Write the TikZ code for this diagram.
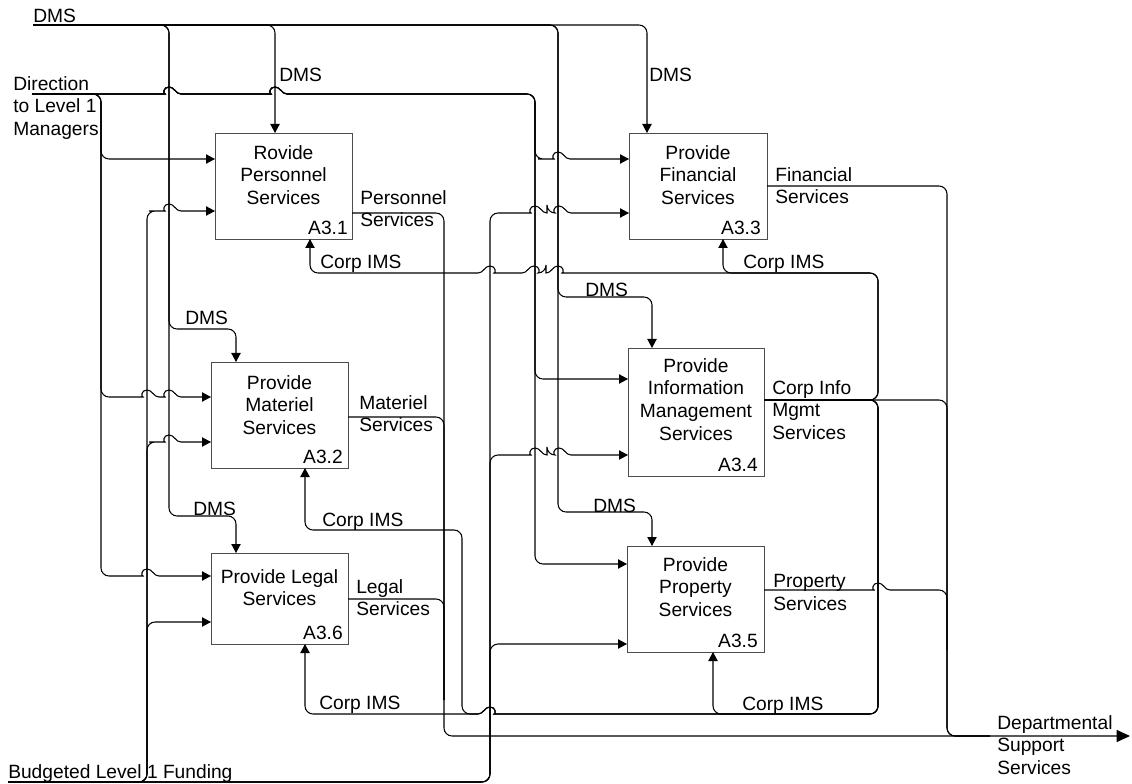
\documentclass[tikz,border=0pt]{standalone}
\usepackage{fontspec}
\setmainfont{Liberation Sans}
\usetikzlibrary{arrows.meta,calc}
\begin{document}
\begin{tikzpicture}[x=0.75pt,y=-0.75pt,
  conn/.style={line width=0.8pt, rounded corners=6pt},
  arr/.style={conn, -{Triangle[length=6.75pt,width=7pt]}},
  bigarr/.style={conn, -{Triangle[length=10pt,width=9pt]}},
  box/.style={draw=black!70, line width=0.7pt, anchor=north west, inner sep=0pt, outer sep=0pt},
  txt/.style={font=\fontsize{14.4}{17}\selectfont, inner sep=0pt, align=left, anchor=north west},
  ttl/.style={txt, align=center, anchor=north},
  num/.style={txt, anchor=south east},
  hr/.style={insert path={[sharp corners] .. controls +(6,0) and +(-6,0) .. ++(12,-7) .. controls +(6,0) and +(-6,0) .. ++(12,7) [rounded corners=6pt]}},
  hl/.style={insert path={[sharp corners] .. controls +(-6,0) and +(6,0) .. ++(-12,-7) .. controls +(-6,0) and +(6,0) .. ++(-12,7) [rounded corners=6pt]}}]
\useasboundingbox (0,0) rectangle (1132,784);

% ---------- boxes ----------
\node[box,minimum width=102.75pt,minimum height=79.5pt] (b31) at (215,133) {};
\node[box,minimum width=103.5pt,minimum height=79.5pt] (b33) at (629,133) {};
\node[box,minimum width=102.75pt,minimum height=79.5pt] (b32) at (211,362) {};
\node[box,minimum width=102.75pt,minimum height=68.25pt] (b36) at (211,553) {};
\node[box,minimum width=102pt,minimum height=96pt] (b34) at (628,348) {};
\node[box,minimum width=102.75pt,minimum height=79.5pt] (b35) at (627,546) {};

\node[ttl] (t31) at (283.5,145) {Rovide\\Personnel\\Services};
\node[ttl] (t33) at (698,145) {Provide\\Financial\\Services};
\node[ttl] (t32) at (279.5,375) {Provide\\Materiel\\Services};
\node[ttl] (t36) at (279.5,569) {Provide Legal\\Services};
\node[ttl] (t34) at (696,358) {Provide\\Information\\Management\\Services};
\node[ttl] (t35) at (695.5,557) {Provide\\Property\\Services};

\node[num] (n31) at ($(b31.south east)+(-4,-4)$) {A3.1};
\node[num] (n33) at ($(b33.south east)+(-6,-4)$) {A3.3};
\node[num] (n32) at ($(b32.south east)+(-5,-4)$) {A3.2};
\node[num] (n36) at ($(b36.south east)+(-5,-4)$) {A3.6};
\node[num] (n34) at ($(b34.south east)+(-6,-4)$) {A3.4};
\node[num] (n35) at ($(b35.south east)+(-6,-4)$) {A3.5};

% ---------- DMS ----------
\draw[arr] (33,25) -- (169,25) -- (169,329) -- (236,329) -- (b32.north -| 236,0);
\draw[arr] (33,25) -- (169,25) -- (169,516) -- (236,516) -- (b36.north -| 236,0);
\draw[arr] (33,25) -- (275,25) -- (b31.north -| 275,0);
\draw[arr] (33,25) -- (558,25) -- (558,297) -- (652,297) -- (b34.north -| 652,0);
\draw[arr] (33,25) -- (558,25) -- (558,512) -- (652,512) -- (b35.north -| 652,0);
\draw[arr] (33,25) -- (647,25) -- (b33.north -| 647,0);

% ---------- Direction ----------
\draw[arr] (32,94) -- (101,94) -- (101,159) -- (b31.west |- 0,159);
\draw[arr] (32,94) -- (101,94) -- (101,397) -- (135,397) [hr] -- (157,397) [hr] -- (b32.west |- 0,397);
\draw[arr] (32,94) -- (101,94) -- (101,576) -- (135,576) [hr] -- (b36.west |- 0,576);
\draw[arr] (32,94) -- (157,94) [hr] -- (263,94) [hr] -- (535,94) -- (535,159) -- (546,159) [hr] -- (b33.west |- 0,159);
\draw[arr] (32,94) -- (157,94) [hr] -- (263,94) [hr] -- (535,94) -- (535,379) -- (b34.west |- 0,379);
\draw[arr] (32,94) -- (157,94) [hr] -- (263,94) [hr] -- (535,94) -- (535,564) -- (b35.west |- 0,564);

% ---------- Funding ----------
\draw[arr] (8,782) -- (147,782) -- (147,211) -- (157,211) [hr] -- (b31.west |- 0,211);
\draw[arr] (8,782) -- (147,782) -- (147,442) -- (157,442) [hr] -- (b32.west |- 0,442);
\draw[arr] (8,782) -- (147,782) -- (147,622) -- (b36.west |- 0,622);
\draw[arr] (8,782) -- (490,782) -- (490,213) -- (523,213) [hr] -- (547,213) [hr] -- (b33.west |- 0,213);
\draw[arr] (8,782) -- (490,782) -- (490,455) -- (523,455) [hr] -- (547,455) [hr] -- (b34.west |- 0,455);
\draw[arr] (8,782) -- (490,782) -- (490,644) -- (b35.west |- 0,644);

% ---------- Outputs ----------
\draw[bigarr] (b31.east |- 0,213) -- (444,213) -- (444,736) -- (1130,736);
\draw[conn] (b32.east |- 0,417) -- (444,417) -- (444,700);
\draw[conn] (b36.east |- 0,599) -- (444,599) -- (444,700);
\draw[conn] (b33.east |- 0,186) -- (947,186) -- (947,736) -- (990,736);
\draw[conn] (b34.east |- 0,400) -- (947,400) -- (947,650);
\draw[conn] (b35.east |- 0,590) -- (866,590) [hr] -- (947,590) -- (947,736) -- (990,736);

% ---------- Corp IMS ----------
\draw[arr] (b34.east |- 0,400) -- (878,400) -- (878,273) -- (723,273) -- (b33.south -| 723,0);
\draw[arr] (b34.east |- 0,400) -- (878,400) -- (878,273) -- (570,273) [hl] -- (546,273) [hl] -- (502,273) [hl] -- (310,273) -- (b31.south -| 310,0);
\draw[arr] (b34.east |- 0,400) -- (878,400) -- (878,714) -- (713,714) -- (b35.south -| 713,0);
\draw[arr] (b34.east |- 0,400) -- (878,400) -- (878,714) -- (502,714) [hl] -- (305,714) -- (b36.south -| 305,0);
\draw[arr] (b34.east |- 0,400) -- (878,400) -- (878,714) -- (502,714) [hl] -- (462,714) -- (462,530) -- (305,530) -- (b32.south -| 305,0);

% ---------- labels ----------
\node[txt] (l1) at (33,9) {DMS};
\node[txt] (l2) at (279,68) {DMS};
\node[txt] (l3) at (649,68) {DMS};
\node[txt] (l4) at (185,311) {DMS};
\node[txt] (l5) at (193,502) {DMS};
\node[txt] (l6) at (585,283) {DMS};
\node[txt] (l7) at (593,499) {DMS};
\node[txt] (c1) at (320,255) {Corp IMS};
\node[txt] (c2) at (743,255) {Corp IMS};
\node[txt] (c3) at (322,513) {Corp IMS};
\node[txt] (c4) at (319,696) {Corp IMS};
\node[txt] (c5) at (742,697) {Corp IMS};
\node[txt] (o1) at (360,190) {Personnel\\Services};
\node[txt] (o2) at (359,395) {Materiel\\Services};
\node[txt] (o3) at (356,579) {Legal\\Services};
\node[txt] (o4) at (775,167) {Financial\\Services};
\node[txt] (o5) at (772,380) {Corp Info\\Mgmt\\Services};
\node[txt] (o6) at (773,574) {Property\\Services};
\node[txt] (o7) at (997,715) {Departmental\\Support\\Services};
\node[txt] (i1) at (13,76) {Direction\\to Level 1\\Managers};
\node[txt] (i2) at (8,764) {Budgeted Level 1 Funding};
\end{tikzpicture}
\end{document}
